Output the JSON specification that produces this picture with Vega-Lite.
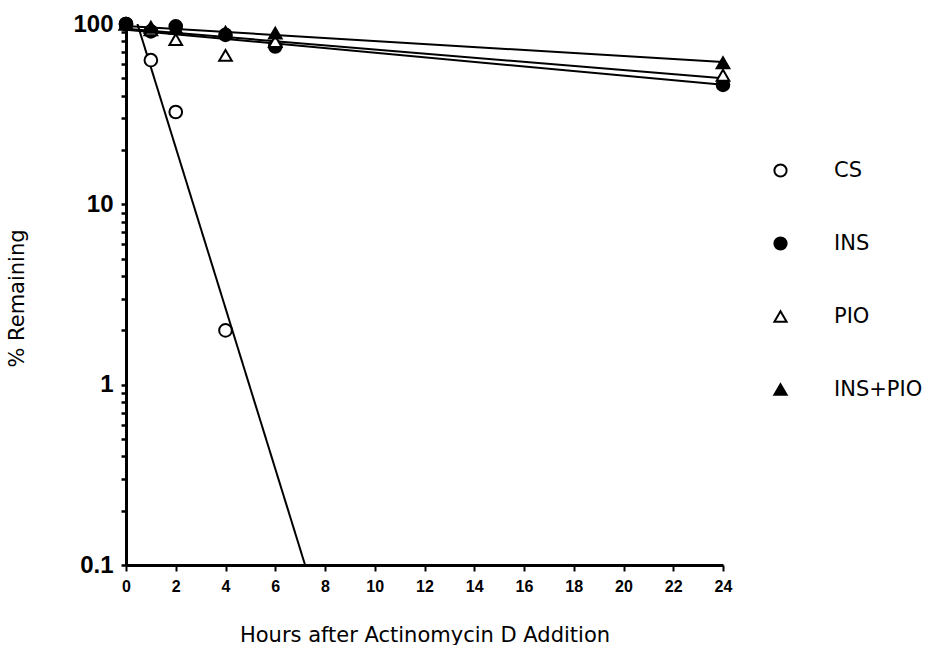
{
  "$schema": "https://vega.github.io/schema/vega-lite/v6.json",
  "width": 597,
  "height": 541,
  "autosize": {"type": "none"},
  "padding": {"left": 126, "top": 24, "right": 219, "bottom": 80},
  "background": "white",
  "config": {
    "view": {"stroke": null},
    "axis": {"grid": false, "domainColor": "black", "tickColor": "black", "labelColor": "black", "titleColor": "black"}
  },
  "datasets": {
    "points": [
      {"series": "CS", "hours": 0, "remaining": 100},
      {"series": "CS", "hours": 1, "remaining": 63},
      {"series": "CS", "hours": 2, "remaining": 32.5},
      {"series": "CS", "hours": 4, "remaining": 2},
      {"series": "INS", "hours": 0, "remaining": 100},
      {"series": "INS", "hours": 1, "remaining": 91},
      {"series": "INS", "hours": 2, "remaining": 97},
      {"series": "INS", "hours": 4, "remaining": 87},
      {"series": "INS", "hours": 6, "remaining": 75},
      {"series": "INS", "hours": 24, "remaining": 46},
      {"series": "PIO", "hours": 0, "remaining": 100},
      {"series": "PIO", "hours": 1, "remaining": 93},
      {"series": "PIO", "hours": 2, "remaining": 82},
      {"series": "PIO", "hours": 4, "remaining": 67},
      {"series": "PIO", "hours": 6, "remaining": 80},
      {"series": "PIO", "hours": 24, "remaining": 52},
      {"series": "INS+PIO", "hours": 0, "remaining": 100},
      {"series": "INS+PIO", "hours": 1, "remaining": 96},
      {"series": "INS+PIO", "hours": 2, "remaining": 95},
      {"series": "INS+PIO", "hours": 4, "remaining": 90},
      {"series": "INS+PIO", "hours": 6, "remaining": 89},
      {"series": "INS+PIO", "hours": 24, "remaining": 61}
    ],
    "fits": [
      {"series": "CS", "hours": 0.46, "remaining": 100},
      {"series": "CS", "hours": 7.2, "remaining": 0.1},
      {"series": "INS", "hours": 0, "remaining": 93},
      {"series": "INS", "hours": 24, "remaining": 46},
      {"series": "PIO", "hours": 0, "remaining": 94},
      {"series": "PIO", "hours": 24, "remaining": 50},
      {"series": "INS+PIO", "hours": 0, "remaining": 97.5},
      {"series": "INS+PIO", "hours": 24, "remaining": 61.5}
    ]
  },
  "layer": [
    {
      "data": {"name": "fits"},
      "mark": {"type": "line", "color": "black", "strokeWidth": 2, "clip": true},
      "encoding": {
        "x": {"field": "hours", "type": "quantitative"},
        "y": {"field": "remaining", "type": "quantitative"},
        "detail": {"field": "series"}
      }
    },
    {
      "data": {"name": "points"},
      "mark": {"type": "point", "filled": true, "strokeWidth": 2, "opacity": 1, "size": 160},
      "encoding": {
        "x": {
          "field": "hours", "type": "quantitative",
          "scale": {"domain": [0, 24], "nice": false, "zero": false},
          "axis": {
            "values": [0, 2, 4, 6, 8, 10, 12, 14, 16, 18, 20, 22, 24],
            "title": "Hours after Actinomycin D Addition",
            "domainWidth": 3, "tickWidth": 2, "tickSize": 6,
            "labelFont": "Liberation Sans", "labelFontSize": 16, "labelFontWeight": "bold",
            "labelPadding": 7, "labelFlush": false,
            "titleFont": "DejaVu Sans", "titleFontSize": 21, "titleFontWeight": "normal",
            "titleBaseline": "alphabetic", "titleY": 76
          }
        },
        "y": {
          "field": "remaining", "type": "quantitative",
          "scale": {"type": "log", "domain": [0.1, 100], "nice": false},
          "axis": {
            "values": [0.1, 0.2, 0.3, 0.4, 0.5, 0.6, 0.7, 0.8, 0.9, 1, 2, 3, 4, 5, 6, 7, 8, 9, 10, 20, 30, 40, 50, 60, 70, 80, 90, 100],
            "labelExpr": "datum.value == 100 ? '100' : datum.value == 10 ? '10' : datum.value == 1 ? '1' : datum.value == 0.1 ? '0.1' : ''",
            "title": "% Remaining",
            "domainWidth": 3, "tickWidth": 2.5, "tickSize": 5,
            "labelFont": "Liberation Sans", "labelFontSize": 24, "labelFontWeight": "bold",
            "labelPadding": 8, "labelFlush": false, "labelOverlap": false,
            "titleFont": "DejaVu Sans", "titleFontSize": 21, "titleFontWeight": "normal",
            "titleAngle": -90, "titleBaseline": "middle", "titleX": -109, "titleY": 274
          }
        },
        "shape": {
          "field": "series", "type": "nominal",
          "scale": {"domain": ["CS", "INS", "PIO", "INS+PIO"], "range": ["circle", "circle", "triangle-up", "triangle-up"]},
          "legend": {
            "title": null, "orient": "none", "legendX": 644, "legendY": 136, "padding": 0,
            "symbolSize": 150, "symbolStrokeWidth": 2,
            "labelFont": "DejaVu Sans", "labelFontSize": 21, "labelColor": "black",
            "labelOffset": 43, "rowPadding": 51
          }
        },
        "fill": {
          "field": "series", "type": "nominal",
          "scale": {"domain": ["CS", "INS", "PIO", "INS+PIO"], "range": ["white", "black", "white", "black"]},
          "legend": {
            "title": null, "orient": "none", "legendX": 644, "legendY": 136, "padding": 0,
            "symbolSize": 150, "symbolStrokeWidth": 2,
            "labelFont": "DejaVu Sans", "labelFontSize": 21, "labelColor": "black",
            "labelOffset": 43, "rowPadding": 51
          }
        },
        "stroke": {
          "field": "series", "type": "nominal",
          "scale": {"domain": ["CS", "INS", "PIO", "INS+PIO"], "range": ["black", "black", "black", "black"]},
          "legend": {
            "title": null, "orient": "none", "legendX": 644, "legendY": 136, "padding": 0,
            "symbolSize": 150, "symbolStrokeWidth": 2,
            "labelFont": "DejaVu Sans", "labelFontSize": 21, "labelColor": "black",
            "labelOffset": 43, "rowPadding": 51
          }
        }
      }
    }
  ]
}
